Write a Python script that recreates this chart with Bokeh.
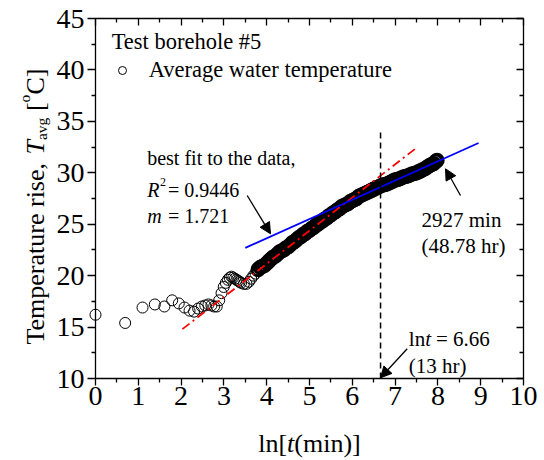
import math
import numpy as np
from bokeh.plotting import figure
from bokeh.models import (Range1d, LinearAxis, FixedTicker, Label, Arrow,
                          NormalHead, Legend, LegendItem, ColumnDataSource)
from bokeh.embed import file_html
from bokeh.resources import INLINE

# ---------------- data ----------------
# early (sparse) readings: elapsed time in minutes, average water temperature
t_early_min = [1, 2, 3, 4, 5, 6, 7, 8, 9, 10, 11, 12, 13, 14, 15, 16, 17, 18, 19, 20,
               21, 22, 23, 24, 25, 26, 27, 28, 29, 30, 32, 34, 36, 38, 40, 42]
T_early = [16.2, 15.4, 16.9, 17.2, 17.0, 17.6, 17.3, 16.9, 16.6, 16.5,
           16.8, 17.0, 17.1, 17.2, 17.1, 17.0, 17.0, 17.6, 18.3, 18.9,
           19.3, 19.6, 19.8, 19.9, 19.8, 19.7, 19.6, 19.5, 19.4, 19.3,
           19.2, 19.2, 19.4, 19.7, 20.0, 20.2]

# dense readings, given directly on the ln[t(min)] axis
lnt_dense = [3.80, 3.85, 3.90, 3.95, 4.00, 4.05, 4.10, 4.15, 4.20, 4.25, 4.30, 4.35, 4.40,
             4.45, 4.50, 4.55, 4.60, 4.65, 4.70, 4.75, 4.80, 4.85, 4.90, 4.95, 5.00, 5.05,
             5.10, 5.15, 5.20, 5.25, 5.30, 5.35, 5.40, 5.45, 5.50, 5.55, 5.60, 5.65, 5.70,
             5.75, 5.80, 5.85, 5.90, 5.95, 6.00, 6.05, 6.10, 6.15, 6.20, 6.25, 6.30, 6.35,
             6.40, 6.45, 6.50, 6.55, 6.60, 6.65, 6.70, 6.75, 6.80, 6.85, 6.90, 6.95, 7.00,
             7.05, 7.10, 7.15, 7.20, 7.25, 7.30, 7.35, 7.40, 7.45, 7.50, 7.55, 7.60, 7.65,
             7.70, 7.75, 7.80, 7.85, 7.90, 7.95, 7.98]
T_dense = [20.6, 20.8, 20.9, 21.0, 21.2, 21.4, 21.6, 21.8, 21.9, 22.1, 22.3, 22.4, 22.5,
           22.7, 22.8, 23.0, 23.2, 23.3, 23.5, 23.7, 23.8, 24.0, 24.1, 24.3, 24.4, 24.6,
           24.7, 24.9, 25.0, 25.2, 25.3, 25.5, 25.6, 25.8, 25.9, 26.1, 26.2, 26.4, 26.5,
           26.7, 26.8, 26.9, 27.0, 27.2, 27.3, 27.4, 27.5, 27.7, 27.8, 27.9, 28.0, 28.1,
           28.2, 28.3, 28.4, 28.5, 28.6, 28.7, 28.8, 28.85, 28.9, 29.0, 29.1, 29.2, 29.3,
           29.35, 29.4, 29.5, 29.6, 29.65, 29.7, 29.8, 29.9, 29.95, 30.0, 30.1, 30.2, 30.3,
           30.4, 30.55, 30.7, 30.8, 30.9, 31.1, 31.2]

# best-fit line (blue) and early trend (red dash-dot)
fit_lnt = [3.50, 8.95]
fit_T = [22.7, 32.9]
trend_lnt = [2.03, 7.51]
trend_T = [14.8, 32.46]

# marked time ln t = 6.66 (13 hr)
lnt_mark = [6.66]
mark_T0 = [10.0]
mark_T1 = [34.3]

# axis ticks
x_major = [0, 1, 2, 3, 4, 5, 6, 7, 8, 9, 10]
x_minor = [0.5, 1.5, 2.5, 3.5, 4.5, 5.5, 6.5, 7.5, 8.5, 9.5]
y_major = [10, 15, 20, 25, 30, 35, 40, 45]
y_minor = [12.5, 17.5, 22.5, 27.5, 32.5, 37.5, 42.5]
x_lim = (0, 10)
y_lim = (10, 45)

# ---------------- layout (pixels) ----------------
FONT = "Liberation Serif"
W, H = 540, 460
AX_L, AX_R, AX_T, AX_B = 95.0, 523.0, 18.0, 378.0     # axis box on the page
KX = (AX_R - AX_L) / (x_lim[1] - x_lim[0])
KY = (AX_B - AX_T) / (y_lim[1] - y_lim[0])
x_view = (x_lim[0] - AX_L / KX, x_lim[1] + (W - AX_R) / KX)
y_view = (y_lim[0] - (H - AX_B) / KY, y_lim[1] + AX_T / KY)


def dx(px):
    return x_lim[0] + (px - AX_L) / KX


def dy(py):
    return y_lim[0] + (AX_B - py) / KY


p = figure(width=W, height=H, x_range=Range1d(*x_view), y_range=Range1d(*y_view),
           output_backend="svg", toolbar_location=None, title=None,
           min_border_left=0, min_border_right=0, min_border_top=0, min_border_bottom=0)
p.xgrid.visible = False
p.ygrid.visible = False
p.outline_line_color = None
p.background_fill_color = "white"
p.border_fill_color = "white"


def base_axis(ax, fixed, bounds):
    ax.fixed_location = fixed
    ax.bounds = bounds
    ax.axis_line_color = "black"
    ax.axis_line_width = 1.3
    ax.major_tick_line_width = 1.3
    ax.minor_tick_line_width = 1.3
    ax.major_label_text_font = FONT
    ax.major_label_text_color = "black"
    ax.major_label_text_font_size = "28px"


xa = p.xaxis[0]
base_axis(xa, y_lim[0], x_lim)
xa.ticker = FixedTicker(ticks=x_major, minor_ticks=x_minor)
xa.major_tick_in, xa.major_tick_out = 0, 7
xa.minor_tick_in, xa.minor_tick_out = 0, 4
xa.major_label_standoff = 1

ya = p.yaxis[0]
base_axis(ya, x_lim[0], y_lim)
ya.ticker = FixedTicker(ticks=y_major, minor_ticks=y_minor)
ya.major_tick_in, ya.major_tick_out = 0, 8
ya.minor_tick_in, ya.minor_tick_out = 0, 4
ya.major_label_standoff = 3


def mirror_axes(place, fixed, bounds, majors, minors):
    for ticks, length, show_line in ((majors, 7, True), (minors, 4, False)):
        ax = LinearAxis(ticker=FixedTicker(ticks=[], minor_ticks=ticks))
        base_axis(ax, fixed, bounds)
        if not show_line:
            ax.axis_line_color = None
        ax.major_tick_in = ax.major_tick_out = 0
        ax.minor_tick_in, ax.minor_tick_out = length, 0
        p.add_layout(ax, place)


mirror_axes("above", y_lim[1], x_lim, x_major, x_minor)
mirror_axes("right", x_lim[1], y_lim, y_major, y_minor)

# ---------------- data marks ----------------
src_early = ColumnDataSource(dict(x=np.log(np.array(t_early_min, dtype=float)), y=T_early))
src_dense = ColumnDataSource(dict(x=lnt_dense, y=T_dense))
r_early = p.scatter("x", "y", source=src_early, marker="circle", size=11,
                    fill_color=None, line_color="black", line_width=1)
p.scatter("x", "y", source=src_dense, marker="circle", size=12.5,
          fill_color=None, line_color="black", line_width=2.8)

p.line(trend_lnt, trend_T, line_color="#ff0000", line_width=1.8, line_dash="9 4 2 4")
p.line(fit_lnt, fit_T, line_color="#0000ff", line_width=1.8)
p.segment(x0=lnt_mark, y0=mark_T0, x1=lnt_mark, y1=mark_T1, line_color="black",
          line_width=1.5, line_dash="6 4")

# ---------------- legend ----------------
legend = Legend(items=[LegendItem(label="Average water temperature", renderers=[r_early])],
                title="Test borehole #5", location=(111.7, H - 82.7),
                border_line_alpha=0, background_fill_alpha=0,
                label_text_font=FONT, label_text_font_size="22.5px",
                label_text_color="black",
                title_text_font=FONT, title_text_font_size="22.5px",
                title_text_color="black",
                title_text_font_style="normal", title_standoff=2,
                glyph_width=20, glyph_height=20, label_standoff=17,
                padding=0, margin=0, spacing=0, label_height=20)
p.add_layout(legend)


# ---------------- text ----------------
def lab(px, py, text, size=21, style="normal", angle=0.0):
    p.add_layout(Label(x=dx(px), y=dy(py), text=text, text_font=FONT,
                       text_font_size=f"{size}px", text_font_style=style,
                       text_align="left", text_baseline="alphabetic",
                       text_color="black", angle=angle))


lab(146.7, 157.3, "best fit to the data,", 20)
lab(146.7, 189.3, "R", 20, "italic")
lab(159.5, 181.0, "2", 12)
lab(167.5, 189.3, "= 0.9446", 20)
lab(146.7, 215.0, "m", 20, "italic")
lab(167.5, 215.0, "= 1.721", 20)

lab(421.0, 219.0, "2927 min", 21)
lab(421.0, 245.0, "(48.78 hr)", 21)

lab(408.3, 338.3, "ln", 21)
lab(424.8, 338.3, "t", 21, "italic")
lab(435.5, 338.3, "= 6.66", 21)
lab(408.3, 365.0, "(13 hr)", 21)

# x axis label: ln[t(min)]
lab(257.7, 443.0, "ln[", 26)
lab(286.6, 443.0, "t", 26, "italic")
lab(293.8, 443.0, "(min)]", 26)

# y axis label (rotated): Temperature rise, T_avg [oC]
A = math.pi / 2
bx = 35.0
lab(bx, 344.0, "Temperature rise,", 26, angle=A)
lab(bx, 154.1, "T", 26, "italic", angle=A)
lab(bx + 6, 139.6, "avg", 15.6, angle=A)
lab(bx, 110.6, "[", 26, angle=A)
lab(bx - 11, 101.9, "o", 15.6, angle=A)
lab(bx, 94.1, "C]", 26, angle=A)


# ---------------- arrows ----------------
def arrow(x0, y0, x1, y1):
    p.add_layout(Arrow(end=NormalHead(size=11, fill_color="black", line_color="black",
                                      line_width=1),
                       x_start=dx(x0), y_start=dy(y0), x_end=dx(x1), y_end=dy(y1),
                       line_color="black", line_width=1.3))


arrow(246.7, 195.0, 270.0, 233.3)
arrow(460.0, 195.0, 445.0, 168.3)
arrow(406.7, 348.3, 380.0, 377.3)

open("out.html", "w").write(file_html(p, INLINE))
